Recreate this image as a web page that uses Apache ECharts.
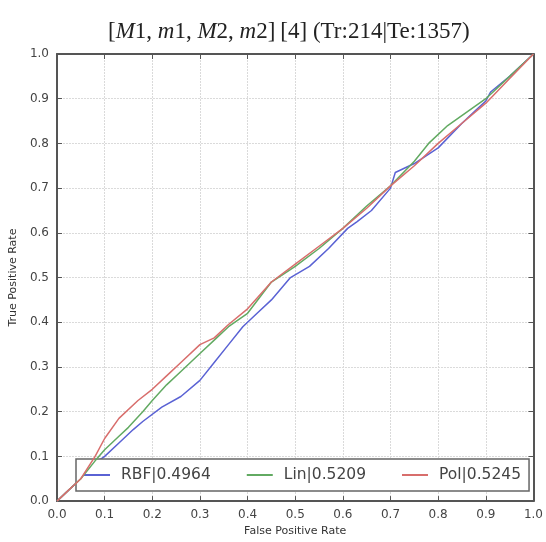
<!DOCTYPE html>
<html>
<head>
<meta charset="utf-8">
<script src="https://cdn.jsdelivr.net/npm/echarts@6/dist/echarts.min.js"></script>
<style>
html,body{margin:0;padding:0;background:#fff;}
#chart{width:546px;height:542px;}
</style>
</head>
<body>
<div id="chart"></div>
<script>
// Data (FPR, TPR pairs)
const rbfFpr = [0,0.02,0.05,0.08,0.10,0.13,0.16,0.18,0.22,0.26,0.30,0.33,0.36,0.39,0.42,0.45,0.49,0.53,0.57,0.61,0.63,0.66,0.70,0.71,0.75,0.80,0.85,0.88,0.90,0.91,0.95,1.0];
const rbfTpr = [0,0.02,0.05,0.085,0.10,0.13,0.16,0.178,0.21,0.234,0.27,0.31,0.35,0.39,0.42,0.45,0.50,0.525,0.565,0.61,0.625,0.65,0.70,0.735,0.755,0.79,0.845,0.875,0.895,0.915,0.95,1.0];
const linFpr = [0,0.02,0.05,0.08,0.10,0.13,0.15,0.18,0.20,0.23,0.26,0.30,0.33,0.36,0.40,0.45,0.50,0.55,0.60,0.65,0.70,0.75,0.78,0.82,0.86,0.90,0.95,1.0];
const linTpr = [0,0.02,0.05,0.09,0.115,0.145,0.165,0.20,0.225,0.26,0.29,0.33,0.36,0.39,0.42,0.49,0.525,0.565,0.61,0.66,0.705,0.76,0.80,0.84,0.87,0.90,0.95,1.0];
const polFpr = [0,0.02,0.05,0.08,0.10,0.13,0.17,0.20,0.23,0.26,0.30,0.33,0.36,0.40,0.45,0.50,0.55,0.60,0.65,0.70,0.75,0.80,0.85,0.90,0.95,1.0];
const polTpr = [0,0.02,0.05,0.10,0.14,0.185,0.225,0.25,0.28,0.31,0.35,0.365,0.395,0.43,0.49,0.53,0.57,0.61,0.655,0.705,0.75,0.80,0.845,0.89,0.945,1.0];
const seriesNames = ['RBF|0.4964','Lin|0.5209','Pol|0.5245'];
const tickValues = [0,0.1,0.2,0.3,0.4,0.5,0.6,0.7,0.8,0.9,1.0];
const xTitle = 'False Positive Rate';
const yTitle = 'True Positive Rate';

const zip = (a,b) => a.map((v,i)=>[v,b[i]]);
const colors = ['#5a62d4','#62aa62','#d86e6c'];
const frame = '#555555';
const font = 'DejaVu Sans';

function axisBase(pos, showLabel, name){
  return {
    type:'value', min:0, max:1, interval:0.1, position:pos,
    name: name || '', nameLocation:'middle',
    nameGap: pos==='left'?37:22,
    nameTextStyle:{fontFamily:font,fontSize:11,color:'#333'},
    axisLine:{show:true,onZero:false,lineStyle:{color:frame,width:2}},
    axisTick:{show:true,inside:true,length:5,lineStyle:{color:frame,width:1}},
    axisLabel:{show:showLabel,fontFamily:font,fontSize:12,color:'#444',margin:8,
      formatter:v=>v.toFixed(1)},
    splitLine:{show:showLabel,lineStyle:{color:'#dadada',width:1,type:[2,1]}}
  };
}

const chart = echarts.init(document.getElementById('chart'));
chart.setOption({
  animation:false,
  backgroundColor:'#fff',
  title:{
    left:103, top:15,
    text:'{n|[}{i|M}{n|1, }{i|m}{n|1, }{i|M}{n|2, }{i|m}{n|2]} {n|[4] (Tr:214|Te:1357)}',
    textStyle:{
      fontWeight:'normal',
      rich:{
        n:{fontFamily:'Liberation Serif',fontWeight:'normal',fontSize:23,color:'#222'},
        i:{fontFamily:'Liberation Serif',fontWeight:'normal',fontStyle:'italic',fontSize:23,color:'#222'}
      }
    }
  },
  grid:{left:54,right:9,top:54,bottom:39,containLabel:false},
  xAxis:[axisBase('bottom',true,xTitle), axisBase('top',false)],
  yAxis:[axisBase('left',true,yTitle), axisBase('right',false)],
  legend:{
    data:seriesNames,
    icon:'rect',
    left:76, top:459,
    orient:'horizontal',
    backgroundColor:'#fff',
    borderColor:'#666', borderWidth:1.5, borderRadius:0,
    padding:[8,8,8,8],
    itemWidth:26, itemHeight:2, itemGap:36,
    textStyle:{fontFamily:font,fontSize:15.5,color:'#444',padding:[0,0,0,6]}
  },
  series:[
    {name:seriesNames[0],type:'line',data:zip(rbfFpr,rbfTpr),showSymbol:false,symbol:'none',
     lineStyle:{color:colors[0],width:1.5},itemStyle:{color:colors[0]},z:3},
    {name:seriesNames[1],type:'line',data:zip(linFpr,linTpr),showSymbol:false,symbol:'none',
     lineStyle:{color:colors[1],width:1.5},itemStyle:{color:colors[1]},z:4},
    {name:seriesNames[2],type:'line',data:zip(polFpr,polTpr),showSymbol:false,symbol:'none',
     lineStyle:{color:colors[2],width:1.5},itemStyle:{color:colors[2]},z:5}
  ]
});
</script>
</body>
</html>
